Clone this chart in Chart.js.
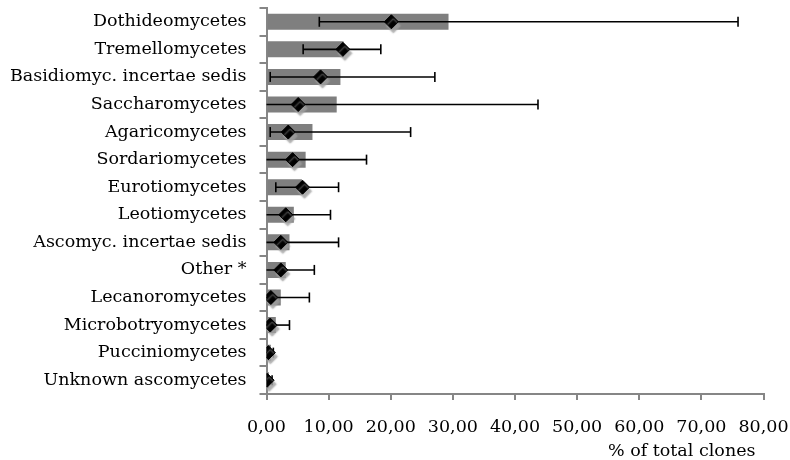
<!DOCTYPE html>
<html>
<head>
<meta charset="utf-8">
<script src="https://cdn.jsdelivr.net/npm/chart.js@4/dist/chart.umd.min.js"></script>
<style>
  html, body { margin: 0; padding: 0; background: #ffffff; }
  #wrap { width: 790px; height: 460px; position: relative; }
</style>
</head>
<body>
<div id="wrap"><canvas id="chart" width="790" height="460"></canvas></div>
<script>
// Fungal classes and their share of total clones (%)
const categories = [
  'Dothideomycetes', 'Tremellomycetes', 'Basidiomyc. incertae sedis', 'Saccharomycetes',
  'Agaricomycetes', 'Sordariomycetes', 'Eurotiomycetes', 'Leotiomycetes',
  'Ascomyc. incertae sedis', 'Other *', 'Lecanoromycetes', 'Microbotryomycetes',
  'Pucciniomycetes', 'Unknown ascomycetes'
];
// pooled share (bars)
const barValues = [29.3, 12.4, 11.9, 11.3, 7.4, 6.3, 5.7, 4.4, 3.7, 3.1, 2.3, 1.5, 0.7, 0.4];
// mean share (diamonds)
const markerValues = [20.1, 12.3, 8.7, 5.1, 3.5, 4.2, 5.8, 3.1, 2.3, 2.3, 0.7, 0.6, 0.3, 0.1];
// range of the mean (error bars)
const errorLow = [8.5, 5.9, 0.6, 0, 0.6, 0, 1.5, 0, 0, 0, 0, 0, 0, 0];
const errorHigh = [75.9, 18.4, 27.1, 43.7, 23.2, 16.1, 11.6, 10.3, 11.6, 7.7, 6.9, 3.7, 1.1, 0.9];
// x axis
const xMin = 0, xMax = 80, xStep = 10;
const xTitle = '% of total clones';

const FONT = { family: "'DejaVu Serif', serif", size: 17.5 };
const AXIS_GREY = '#868686';

// Error bars go under the diamonds; diamonds get a soft grey drop shadow.
const errorAndShadow = {
  id: 'errorAndShadow',
  beforeDatasetDraw(chart, args) {
    if (args.index !== 1) return;
    const ctx = chart.ctx;
    const x = chart.scales.x;
    const meta = chart.getDatasetMeta(1);
    ctx.save();
    ctx.strokeStyle = '#000000';
    ctx.lineWidth = 1.6;
    meta.data.forEach((pt, i) => {
      const y = pt.y;
      const lo = Math.max(errorLow[i], xMin);
      const x0 = x.getPixelForValue(lo);
      const x1 = x.getPixelForValue(errorHigh[i]);
      ctx.beginPath();
      ctx.moveTo(x0, y);
      ctx.lineTo(x1, y);
      ctx.stroke();
      const caps = [];
      if (errorLow[i] > xMin) caps.push(x0);
      caps.push(x1);
      caps.forEach(cx => {
        ctx.beginPath();
        ctx.moveTo(cx, y - 5);
        ctx.lineTo(cx, y + 5);
        ctx.stroke();
      });
    });
    ctx.restore();
    ctx.save();
    ctx.shadowColor = 'rgba(160,160,160,0.85)';
    ctx.shadowOffsetX = 2;
    ctx.shadowOffsetY = 4;
    ctx.shadowBlur = 1.5;
  },
  afterDatasetDraw(chart, args) {
    if (args.index !== 1) return;
    chart.ctx.restore();
  },
  // axis title, right-aligned just inside the end of the x axis
  afterDraw(chart) {
    const ctx = chart.ctx;
    const x = chart.scales.x;
    ctx.save();
    ctx.font = `${FONT.size}px ${FONT.family}`;
    ctx.fillStyle = '#000000';
    ctx.textAlign = 'right';
    ctx.textBaseline = 'middle';
    ctx.fillText(xTitle, x.right - 8, x.bottom - 9);
    ctx.restore();
  }
};

new Chart(document.getElementById('chart'), {
  type: 'bar',
  data: {
    labels: categories,
    datasets: [
      {
        type: 'bar',
        indexAxis: 'y',
        data: barValues,
        backgroundColor: '#7f7f7f',
        borderWidth: 0,
        barPercentage: 0.58,
        categoryPercentage: 1,
        order: 1
      },
      {
        type: 'line',
        indexAxis: 'y',
        data: markerValues,
        showLine: false,
        pointStyle: 'rectRot',
        pointRadius: 7,
        pointBorderWidth: 1,
        pointBackgroundColor: '#000000',
        pointBorderColor: '#000000',
        order: 0
      }
    ]
  },
  options: {
    indexAxis: 'y',
    responsive: false,
    animation: false,
    events: [],
    layout: { padding: { top: 7, right: 26.5, left: 0, bottom: 0 } },
    plugins: { legend: { display: false }, tooltip: { enabled: false } },
    scales: {
      x: {
        type: 'linear',
        min: xMin,
        max: xMax,
        border: { display: true, color: AXIS_GREY, width: 2 },
        grid: { display: true, drawOnChartArea: false, drawTicks: true, tickLength: 6, color: AXIS_GREY, lineWidth: 2 },
        ticks: {
          stepSize: xStep,
          color: '#000000',
          font: FONT,
          padding: 17,
          maxRotation: 0,
          callback: v => Number(v).toFixed(2).replace('.', ',')
        },
        title: { display: false },
        afterFit(scale) {
          scale.height = 66;
          scale.paddingLeft = 0; scale.paddingRight = 0;
          scale.paddingTop = 0; scale.paddingBottom = 0;
        }
      },
      y: {
        type: 'category',
        offset: true,
        border: { display: true, color: AXIS_GREY, width: 2 },
        grid: { display: true, offset: true, drawOnChartArea: false, drawTicks: true, tickLength: 7, color: AXIS_GREY, lineWidth: 2 },
        ticks: { color: '#000000', font: FONT, padding: 13, autoSkip: false },
        afterFit(scale) {
          scale.width = 266.5;
          scale.paddingLeft = 0; scale.paddingRight = 0;
          scale.paddingTop = 0; scale.paddingBottom = 0;
        }
      }
    }
  },
  plugins: [errorAndShadow]
});
</script>
</body>
</html>
